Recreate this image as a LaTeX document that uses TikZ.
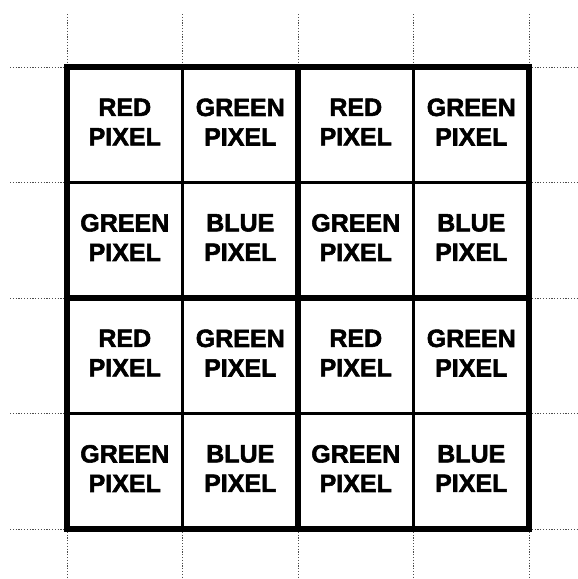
\documentclass[tikz,border=0pt]{standalone}
\usepackage{fontspec}
\setmainfont{Liberation Sans}[BoldFeatures={FakeBold=2.2}]
\begin{document}
\begin{tikzpicture}[x=1pt,y=-1pt,
  guide/.style={draw=black!70,line width=0.8pt,dash pattern=on 1.2pt off 1.6pt},
  thinline/.style={draw=black,line width=2.3pt},
  thickline/.style={draw=black,line width=5.5pt},
  pixel/.style={font=\fontsize{25}{29.5}\selectfont\bfseries,align=center,inner sep=0pt}]
\useasboundingbox (0,0) rectangle (578,579);
% dotted guide extensions
\foreach \p in {67,182.5,298,413.5,529}{
  \draw[guide] (\p,14) -- (\p,67);
  \draw[guide] (\p,529) -- (\p,578);
  \draw[guide] (10,\p) -- (67,\p);
  \draw[guide] (529,\p) -- (578,\p);
}
% thin inner lines
\foreach \p in {182.5,413.5}{
  \draw[thinline] (\p,67) -- (\p,529);
  \draw[thinline] (67,\p) -- (529,\p);
}
% thick lines
\draw[thickline] (298,67) -- (298,529);
\draw[thickline] (67,298) -- (529,298);
\draw[thickline] (67,67) rectangle (529,529);
% labels
\foreach \r in {0,1,2,3}{
  \foreach \c in {0,1,2,3}{
    \pgfmathtruncatemacro{\rr}{mod(\r,2)}
    \pgfmathtruncatemacro{\cc}{mod(\c,2)}
    \pgfmathtruncatemacro{\k}{\rr*2+\cc}
    \ifcase\k \def\lbl{RED}\or \def\lbl{GREEN}\or \def\lbl{GREEN}\or \def\lbl{BLUE}\fi
    \node[pixel] (cell-\r-\c) at ({67+115.5*\c+57.75},{67+115.5*\r+55}) {\lbl\\PIXEL};
  }
}
\end{tikzpicture}
\end{document}
